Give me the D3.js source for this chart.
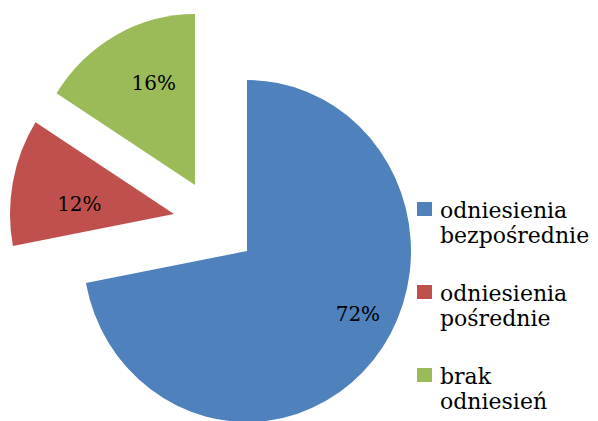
<!DOCTYPE html>
<html>
<head>
<meta charset="utf-8">
<script src="https://cdn.jsdelivr.net/npm/d3@7"></script>
<style>
  body { margin: 0; background: #fff; }
  text { font-family: "DejaVu Serif", serif; fill: #000; }
</style>
</head>
<body>
<svg id="chart" width="598" height="421"></svg>
<script>
// data
const categories = ["odniesienia bezpośrednie", "odniesienia pośrednie", "brak odniesień"];
const legendLines = [["odniesienia", "bezpośrednie"], ["odniesienia", "pośrednie"], ["brak", "odniesień"]];
const shares = [72, 12, 16];
const colors = ["#4F81BD", "#C0504D", "#9BBB59"];

// layout / style
const cx = 247, cy = 251, r = 164, sy = 171 / 164;
const explode = [[0, 0], [-73, -37], [-52, -66]];          // slice offsets in px
const labelPlace = [{ k: 0.77, shift: -11 }, { k: 0.58, shift: -5 }, { k: 0.65, shift: 6 }];

const svg = d3.select("#chart");

const pie = d3.pie().sort(null).value(d => d)(shares);
const arc = d3.arc().innerRadius(0).outerRadius(r);

// slices
const slices = svg.selectAll("g.slice")
  .data(pie)
  .enter()
  .append("g")
  .attr("class", "slice")
  .attr("transform", (d, i) => `translate(${cx + explode[i][0]},${cy + explode[i][1]})`);

slices.append("path")
  .attr("transform", `scale(1,${sy})`)
  .attr("d", arc)
  .attr("fill", (d, i) => colors[i]);

// percent labels
slices.append("text")
  .attr("transform", (d, i) => {
    const p = labelPlace[i];
    const a = (d.startAngle + d.endAngle) / 2 + p.shift * Math.PI / 180;
    const c = d3.arc().innerRadius(r * p.k).outerRadius(r * p.k).centroid({ startAngle: a, endAngle: a });
    return `translate(${c[0]},${c[1] * sy})`;
  })
  .attr("text-anchor", "middle")
  .attr("dy", "0.36em")
  .style("font-size", "20px")
  .text(d => d3.format(".0%")(d.value / d3.sum(shares)));

// legend
const legend = svg.append("g").attr("transform", "translate(417,0)");
const legendY = d3.scalePoint().domain(categories).range([202, 368]);

const items = legend.selectAll("g.item")
  .data(categories)
  .enter()
  .append("g")
  .attr("class", "item")
  .attr("transform", d => `translate(0,${legendY(d)})`);

items.append("rect")
  .attr("width", 15)
  .attr("height", 14)
  .attr("fill", (d, i) => colors[i]);

items.append("text")
  .attr("x", 23)
  .attr("y", 16)
  .style("font-size", "22px")
  .selectAll("tspan")
  .data((d, i) => legendLines[i])
  .enter()
  .append("tspan")
  .attr("x", 23)
  .attr("dy", (d, j) => j === 0 ? 0 : 25)
  .text(d => d);
</script>
</body>
</html>
